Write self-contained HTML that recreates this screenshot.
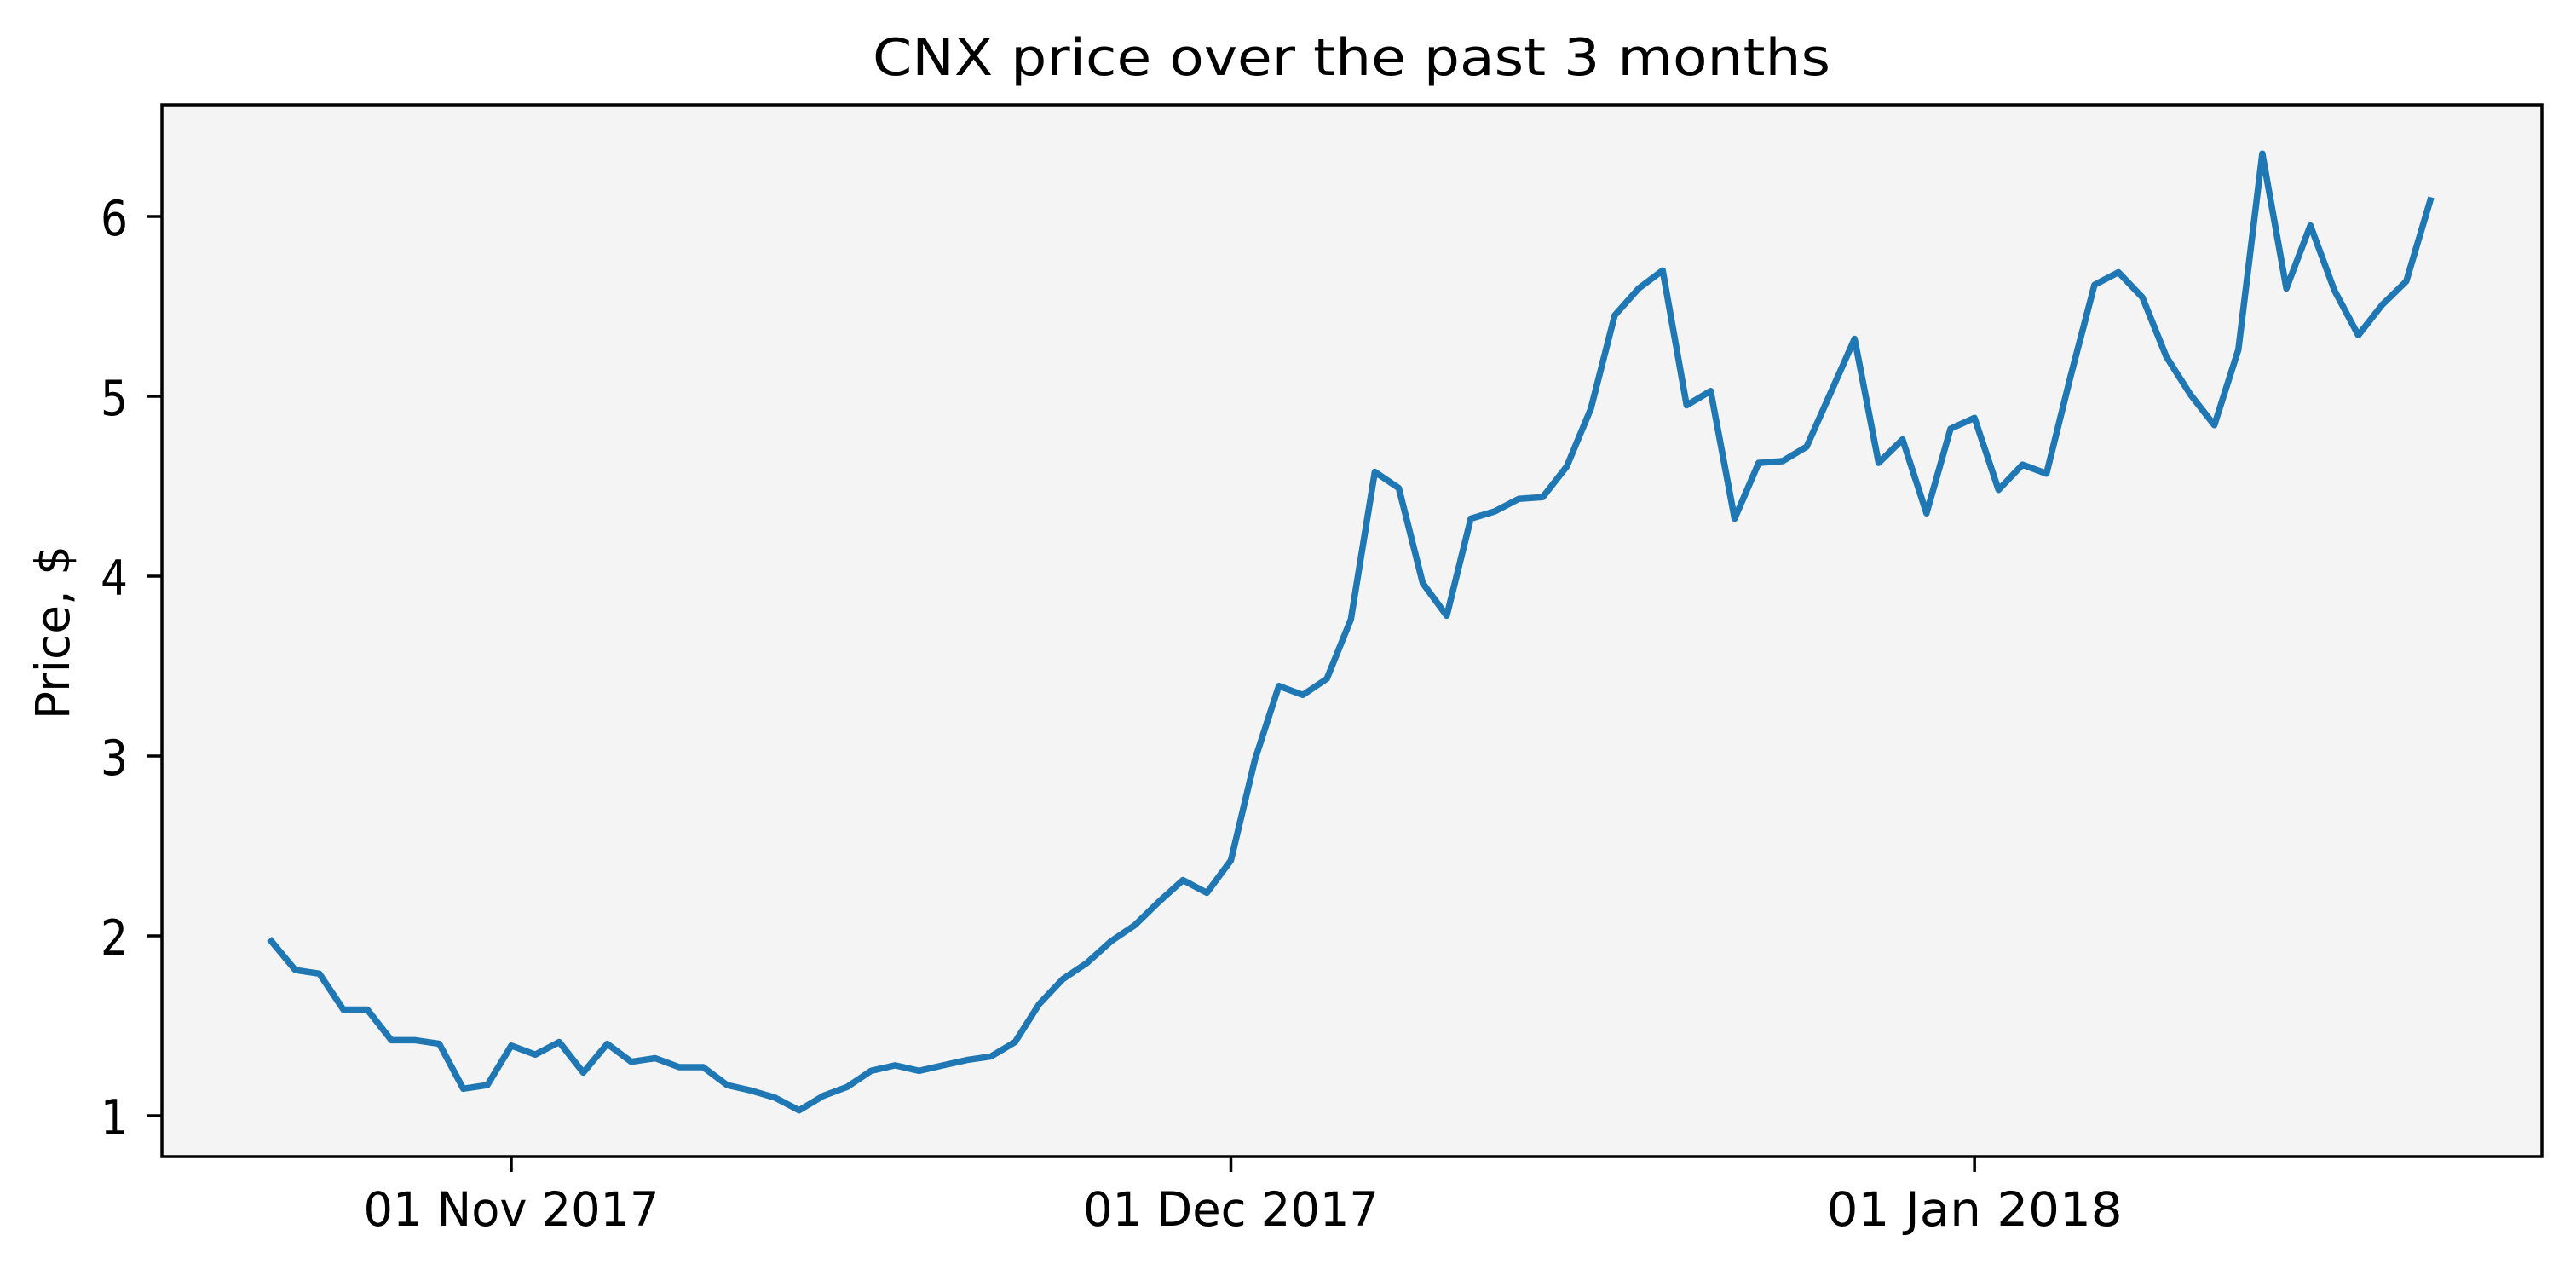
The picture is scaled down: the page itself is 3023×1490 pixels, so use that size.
<!DOCTYPE html>
<html><head><meta charset="utf-8"><style>
html,body{margin:0;padding:0;background:#fff;}
svg{display:block;font-family:"DejaVu Sans","Liberation Sans",sans-serif;}
</style></head><body>
<svg id="chart" width="3023" height="1490" viewBox="0 0 3023 1490" xmlns="http://www.w3.org/2000/svg">
<rect x="0" y="0" width="3023" height="1490" fill="#fff"/>
<rect x="190" y="123" width="2793" height="1234" fill="#f4f4f4"/>
<text x="1586" y="88" font-size="60" text-anchor="middle" textLength="1124" lengthAdjust="spacingAndGlyphs">CNX price over the past 3 months</text>
<text transform="translate(81,742) rotate(-90)" font-size="55" text-anchor="middle">Price, $</text>
<g id="ticks"></g>
<path id="line" fill="none" stroke="#1f77b4" stroke-width="7.5" stroke-linejoin="round" stroke-linecap="square"/>
<rect x="190" y="123" width="2793" height="1234" fill="none" stroke="#000" stroke-width="3.5"/>
</svg>
<script>
const startDate = "2017-10-22";
const prices = [1.97,1.81,1.79,1.59,1.59,1.42,1.42,1.40,1.15,1.17,1.39,1.34,1.41,1.24,1.40,1.30,1.32,1.27,1.27,1.17,1.14,1.10,1.03,1.11,1.16,1.25,1.28,1.25,1.28,1.31,1.33,1.41,1.62,1.76,1.85,1.97,2.06,2.19,2.31,2.24,2.42,2.98,3.39,3.34,3.43,3.76,4.58,4.49,3.96,3.78,4.32,4.36,4.43,4.44,4.61,4.93,5.45,5.60,5.70,4.95,5.03,4.32,4.63,4.64,4.72,5.02,5.32,4.63,4.76,4.35,4.82,4.88,4.48,4.62,4.57,5.11,5.62,5.69,5.55,5.22,5.01,4.84,5.26,6.35,5.60,5.95,5.59,5.34,5.51,5.64,6.09];
const yTicks = [1,2,3,4,5,6];
const xTickDates = ["2017-11-01","2017-12-01","2018-01-01"];
const xTickLabels = ["01 Nov 2017","01 Dec 2017","01 Jan 2018"];

const DAY = 86400000;
const t0 = Date.parse(startDate);
const nov1 = Date.parse("2017-11-01");
function xDay(ms){ return 600 + (ms - nov1)/DAY*28.15; }
function xScale(i){ return xDay(t0 + i*DAY); }
function yScale(v){ return 1309 - (v-1)*211; }

const g = document.getElementById('ticks');
const NS = "http://www.w3.org/2000/svg";
let d = "";
prices.forEach((v,i)=>{ d += (i?"L":"M") + xScale(i).toFixed(1) + " " + yScale(v).toFixed(1); });
document.getElementById('line').setAttribute('d', d);

yTicks.forEach(v=>{
  const y = yScale(v);
  const l = document.createElementNS(NS,'line');
  l.setAttribute('x1',172); l.setAttribute('x2',190); l.setAttribute('y1',y); l.setAttribute('y2',y);
  l.setAttribute('stroke','#000'); l.setAttribute('stroke-width','3.5');
  
  
  g.appendChild(l);
  const t = document.createElementNS(NS,'text');
  t.setAttribute('x',150); t.setAttribute('y',y+22); t.setAttribute('font-size','57'); t.setAttribute('text-anchor','end');
  t.setAttribute('textLength','32'); t.setAttribute('lengthAdjust','spacingAndGlyphs');
  t.textContent = String(v);
  
  
  g.appendChild(t);
});
xTickDates.forEach((ds,k)=>{
  const x = xDay(Date.parse(ds));
  const l = document.createElementNS(NS,'line');
  l.setAttribute('x1',x); l.setAttribute('x2',x); l.setAttribute('y1',1357); l.setAttribute('y2',1375);
  l.setAttribute('stroke','#000'); l.setAttribute('stroke-width','3.5');
  
  
  g.appendChild(l);
  const t = document.createElementNS(NS,'text');
  t.setAttribute('x',x); t.setAttribute('y',1438); t.setAttribute('font-size','55'); t.setAttribute('text-anchor','middle');
  t.setAttribute('textLength','347'); t.setAttribute('lengthAdjust','spacingAndGlyphs');
  t.textContent = xTickLabels[k];
  
  
  g.appendChild(t);
});
</script>
</body></html>
